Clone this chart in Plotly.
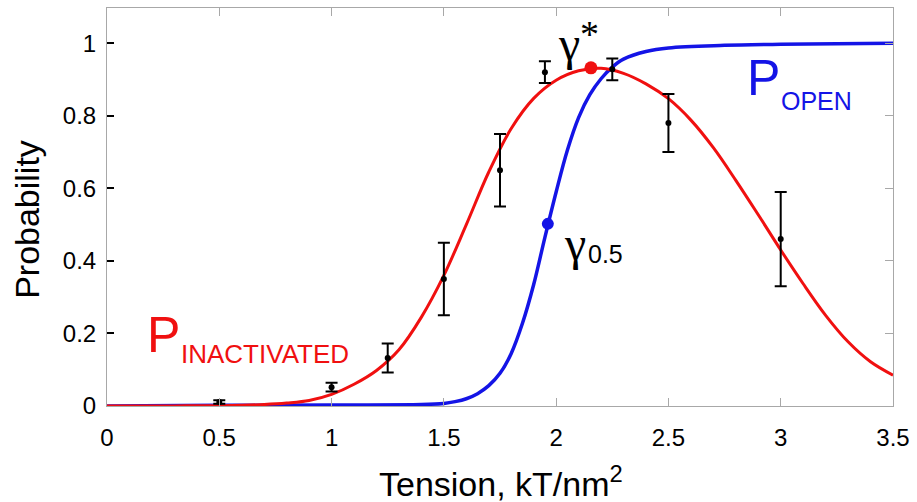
import plotly.graph_objects as go

# ---- data ----
x_data = [0.5, 1.0, 1.25, 1.5, 1.75, 1.95, 2.25, 2.5, 3.0]
y_data = [0.011, 0.052, 0.132, 0.35, 0.65, 0.92, 0.928, 0.78, 0.46]
y_err = [0.005, 0.012, 0.04, 0.10, 0.10, 0.03, 0.03, 0.08, 0.13]

x_inact = [0.0, 0.1, 0.2, 0.3, 0.4, 0.5, 0.6, 0.7, 0.8, 0.9, 1.0, 1.1, 1.2, 1.3,
           1.4, 1.5, 1.6, 1.7, 1.8, 1.9, 2.0, 2.1, 2.2, 2.3, 2.4, 2.5, 2.6, 2.7,
           2.8, 2.9, 3.0, 3.1, 3.2, 3.3, 3.4, 3.5]
y_inact = [0.0, 0.0, 0.0, 0.0, 0.001, 0.001, 0.002, 0.004, 0.008, 0.015, 0.032,
           0.060, 0.098, 0.155, 0.245, 0.36, 0.50, 0.645, 0.765, 0.848, 0.898,
           0.924, 0.931, 0.917, 0.888, 0.847, 0.788, 0.712, 0.622, 0.527, 0.43,
           0.337, 0.25, 0.177, 0.122, 0.085]

x_open = [0.0, 0.5, 1.0, 1.4, 1.5, 1.55, 1.6, 1.65, 1.7, 1.75, 1.8, 1.85, 1.9,
          1.95, 2.0, 2.05, 2.1, 2.15, 2.2, 2.25, 2.3, 2.4, 2.5, 2.75, 3.0, 3.5]
y_open = [0.0, 0.002, 0.003, 0.004, 0.007, 0.012, 0.02, 0.034, 0.056, 0.09,
          0.145, 0.228, 0.335, 0.465, 0.59, 0.705, 0.795, 0.858, 0.902, 0.934,
          0.956, 0.977, 0.987, 0.994, 0.997, 1.0]

gamma_star = (2.155, 0.932)
gamma_half = (1.963, 0.502)

x_ticks = [0, 0.5, 1, 1.5, 2, 2.5, 3, 3.5]
x_ticktext = ["0", "0.5", "1", "1.5", "2", "2.5", "3", "3.5"]
y_ticks = [0, 0.2, 0.4, 0.6, 0.8, 1.0]
y_ticktext = ["0", "0.2", "0.4", "0.6", "0.8", "1"]

RED = "#f01010"
BLUE = "#1414e6"
SANS = "Liberation Sans, Arial, sans-serif"
SERIF = "Liberation Serif, Times New Roman, serif"

W, H = 917, 502
L, R, T, B = 107, 20, 7, 96
PW, PH = W - L - R, H - T - B


def pxx(xp):
    return (xp - L) / PW


def pxy(yp):
    return (H - B - yp) / PH


fig = go.Figure()

fig.add_trace(go.Scatter(x=x_open, y=y_open, mode="lines",
                         line=dict(color=BLUE, width=3.5, shape="spline", smoothing=1),
                         showlegend=False, hoverinfo="skip"))
fig.add_trace(go.Scatter(x=x_inact, y=y_inact, mode="lines",
                         line=dict(color=RED, width=3, shape="spline", smoothing=1),
                         showlegend=False, hoverinfo="skip"))
fig.add_trace(go.Scatter(x=x_data, y=y_data, mode="markers",
                         marker=dict(color="black", size=6),
                         error_y=dict(type="data", array=y_err, color="black",
                                      thickness=2, width=6),
                         showlegend=False))
fig.add_trace(go.Scatter(x=[gamma_star[0]], y=[gamma_star[1]], mode="markers",
                         marker=dict(color=RED, size=13), showlegend=False))
fig.add_trace(go.Scatter(x=[gamma_half[0]], y=[gamma_half[1]], mode="markers",
                         marker=dict(color=BLUE, size=12), showlegend=False))
# carrier for the right-hand tick axis
fig.add_trace(go.Scatter(x=[None], y=[None], yaxis="y2", showlegend=False,
                         hoverinfo="skip"))

AX_GRAY = "#a8a8a8"
fig.update_layout(
    width=W, height=H,
    margin=dict(l=L, r=R, t=T, b=B),
    paper_bgcolor="white", plot_bgcolor="white",
    font=dict(family=SANS, color="black"),
    xaxis=dict(range=[0, 3.5], tickvals=x_ticks, ticktext=x_ticktext,
               showline=True, linecolor=AX_GRAY, linewidth=1, mirror="ticks",
               ticks="inside", tickcolor=AX_GRAY, ticklen=8, tickwidth=1,
               tickfont=dict(size=24, family=SANS, color="black"),
               ticklabelstandoff=10,
               showgrid=False, zeroline=False),
    yaxis=dict(range=[0, 1.097], tickvals=y_ticks, ticktext=y_ticktext,
               showline=True, linecolor=AX_GRAY, linewidth=1, mirror=True,
               ticks="inside", tickcolor="black", ticklen=7, tickwidth=2,
               tickfont=dict(size=24, family=SANS, color="black"),
               ticklabelstandoff=5,
               showgrid=False, zeroline=False),
    yaxis2=dict(range=[0, 1.097], overlaying="y", side="right", anchor="x",
                tickvals=y_ticks, showticklabels=False, showline=False,
                ticks="inside", tickcolor=AX_GRAY, ticklen=8, tickwidth=1,
                showgrid=False, zeroline=False),
)

ann = [
    # axis titles
    dict(text="Tension, kT/nm<sup>2</sup>", x=pxx(503), y=pxy(482),
         font=dict(size=34, family=SANS, color="black")),
    dict(text="Probability", x=pxx(27), y=pxy(219), textangle=-90,
         font=dict(size=34, family=SANS, color="black")),
    # P_INACTIVATED
    dict(text="P", x=pxx(145), y=pxy(335), xanchor="left",
         font=dict(size=50, family=SANS, color=RED)),
    dict(text="INACTIVATED", x=pxx(179), y=pxy(354), xanchor="left",
         font=dict(size=26, family=SANS, color=RED)),
    # P_OPEN
    dict(text="P", x=pxx(748), y=pxy(77), xanchor="left",
         font=dict(size=50, family=SANS, color=BLUE)),
    dict(text="OPEN", x=pxx(782), y=pxy(100), xanchor="left",
         font=dict(size=25, family=SANS, color=BLUE)),
    # gamma*
    dict(text="γ", x=pxx(571.5), y=pxy(43),
         font=dict(size=48, family=SERIF, color="black")),
    dict(text="*", x=pxx(592), y=pxy(33),
         font=dict(size=38, family=SERIF, color="black")),
    # gamma_0.5
    dict(text="γ", x=pxx(577.5), y=pxy(243),
         font=dict(size=48, family=SERIF, color="black")),
    dict(text="0.5", x=pxx(588), y=pxy(254), xanchor="left",
         font=dict(size=25, family=SANS, color="black")),
]
for a in ann:
    a.setdefault("xanchor", "center")
    a.setdefault("yanchor", "middle")
    a.update(xref="paper", yref="paper", showarrow=False)
fig.update_layout(annotations=ann)

fig.write_html("out.html",
               config={"displayModeBar": False},
               post_script="document.body.style.margin='0';"
                           "document.body.style.overflow='hidden';")
